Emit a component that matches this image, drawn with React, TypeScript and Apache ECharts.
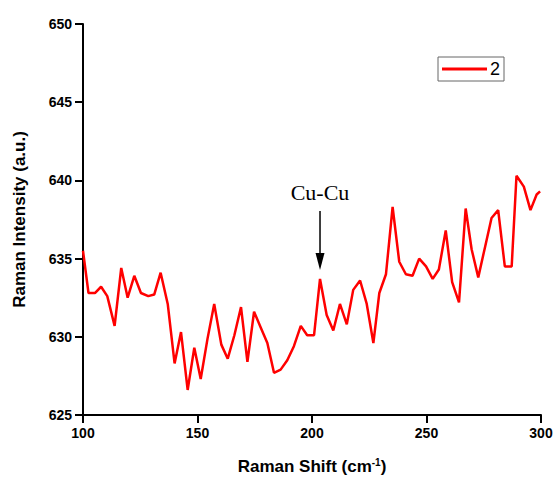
import React, { useEffect, useRef } from "react";
import * as echarts from "echarts";

const shift = [
  100.0, 102.4, 105.2, 107.9, 110.6, 113.8, 116.7, 119.5, 122.4, 125.3,
  128.5, 131.1, 133.9, 137.0, 140.0, 142.8, 145.7, 148.6, 151.4, 154.4,
  157.3, 160.4, 163.2, 166.1, 169.0, 171.8, 174.7, 177.6, 180.5, 183.4,
  186.3, 189.2, 192.1, 195.1, 197.9, 200.9, 203.5, 206.4, 209.3, 212.2,
  215.2, 218.0, 221.0, 223.9, 226.8, 229.4, 232.3, 235.2, 238.1, 241.0,
  243.9, 246.8, 249.8, 252.7, 255.4, 258.4, 261.2, 264.2, 267.1, 269.7,
  272.6, 275.5, 278.4, 281.3, 284.2, 287.2, 289.3, 292.5, 295.4, 298.1, 299.6,
];
const intensity = [
  635.5, 632.8, 632.8, 633.2, 632.6, 630.7, 634.4, 632.5, 633.9, 632.8,
  632.6, 632.7, 634.1, 632.1, 628.3, 630.3, 626.6, 629.3, 627.3, 629.9,
  632.1, 629.5, 628.6, 630.1, 631.9, 628.4, 631.6, 630.6, 629.6, 627.7,
  627.9, 628.5, 629.4, 630.7, 630.1, 630.1, 633.7, 631.4, 630.4, 632.1,
  630.8, 633.0, 633.6, 632.1, 629.6, 632.8, 634.0, 638.3, 634.8, 634.0,
  633.9, 635.0, 634.5, 633.7, 634.3, 636.8, 633.5, 632.2, 638.2, 635.6,
  633.8, 635.7, 637.6, 638.1, 634.5, 634.5, 640.3, 639.6, 638.1, 639.1, 639.3,
];
const seriesName = "2";
const annotation = { x: 203.5, y: 633.7, label: "Cu-Cu" };
const xTicks = { min: 100, max: 300, interval: 50 };
const yTicks = { min: 625, max: 650, interval: 5 };

const SANS = "'Liberation Sans', Arial, sans-serif";
const SERIF = "'Liberation Serif', 'Times New Roman', serif";

export default function App() {
  const ref = useRef<HTMLDivElement>(null);
  useEffect(() => {
    document.body.style.margin = "0";
    if (!ref.current) return;
    const chart = echarts.init(ref.current, null, { renderer: "svg" });
    const axisCommon = {
      axisLine: { show: true, lineStyle: { color: "#000", width: 2 } },
      axisTick: { show: true, length: 8, inside: false, lineStyle: { color: "#000", width: 2 } },
      splitLine: { show: false },
      axisLabel: { color: "#000", fontFamily: SANS, fontWeight: "bold" as const, fontSize: 14, margin: 11 },
    };
    chart.setOption({
      animation: false,
      backgroundColor: "#fff",
      grid: { left: 83, right: 15, top: 24, bottom: 67 },
      legend: {
        left: 438,
        top: 57,
        itemWidth: 45,
        itemHeight: 3,
        itemGap: 4,
        padding: [3, 4, 3, 4],
        borderColor: "#666",
        borderWidth: 1,
        textStyle: { fontFamily: SANS, fontSize: 18, color: "#000", padding: [0, 0, 0, -2], lineHeight: 18 },
        data: [{ name: seriesName, icon: "rect", itemStyle: { color: "#ff0000" } }],
        itemStyle: { borderWidth: 0 },
      },
      xAxis: {
        type: "value",
        ...xTicks,
        ...axisCommon,
        name: "{a|Raman Shift (cm}{s|-1}{a|)}",
        nameLocation: "middle",
        nameGap: 42,
        nameTextStyle: {
          rich: {
            a: { fontFamily: SANS, fontWeight: "bold", fontSize: 17, color: "#000" },
            s: { fontFamily: SANS, fontWeight: "bold", fontSize: 10, color: "#000", verticalAlign: "top", padding: [0, 0, 8, 0] },
          },
        },
      },
      yAxis: {
        type: "value",
        ...yTicks,
        ...axisCommon,
        name: "Raman Intensity (a.u.)",
        nameLocation: "middle",
        nameGap: 55,
        nameTextStyle: { fontFamily: SANS, fontWeight: "bold", fontSize: 17, color: "#000" },
      },
      series: [
        {
          name: seriesName,
          type: "line",
          symbol: "none",
          lineStyle: { color: "#ff0000", width: 2.5 },
          itemStyle: { color: "#ff0000" },
          data: shift.map((x, i) => [x, intensity[i]]),
        },
      ],
    });
    const [px, py] = chart.convertToPixel({ gridIndex: 0 }, [annotation.x, annotation.y]) as number[];
    const tipY = py - 9;
    chart.setOption({
      graphic: [
        {
          type: "text",
          x: px,
          y: tipY - 77,
          style: { text: annotation.label, font: `22px ${SERIF}`, fill: "#000", align: "center", verticalAlign: "middle" },
        },
        {
          type: "line",
          shape: { x1: px, y1: tipY - 59, x2: px, y2: tipY - 12 },
          style: { stroke: "#000", lineWidth: 1.5 },
        },
        {
          type: "polygon",
          shape: { points: [[px - 4.5, tipY - 17], [px + 4.5, tipY - 17], [px, tipY]] },
          style: { fill: "#000" },
        },
      ],
    });
    return () => chart.dispose();
  }, []);
  return <div ref={ref} style={{ width: 556, height: 482 }} />;
}
